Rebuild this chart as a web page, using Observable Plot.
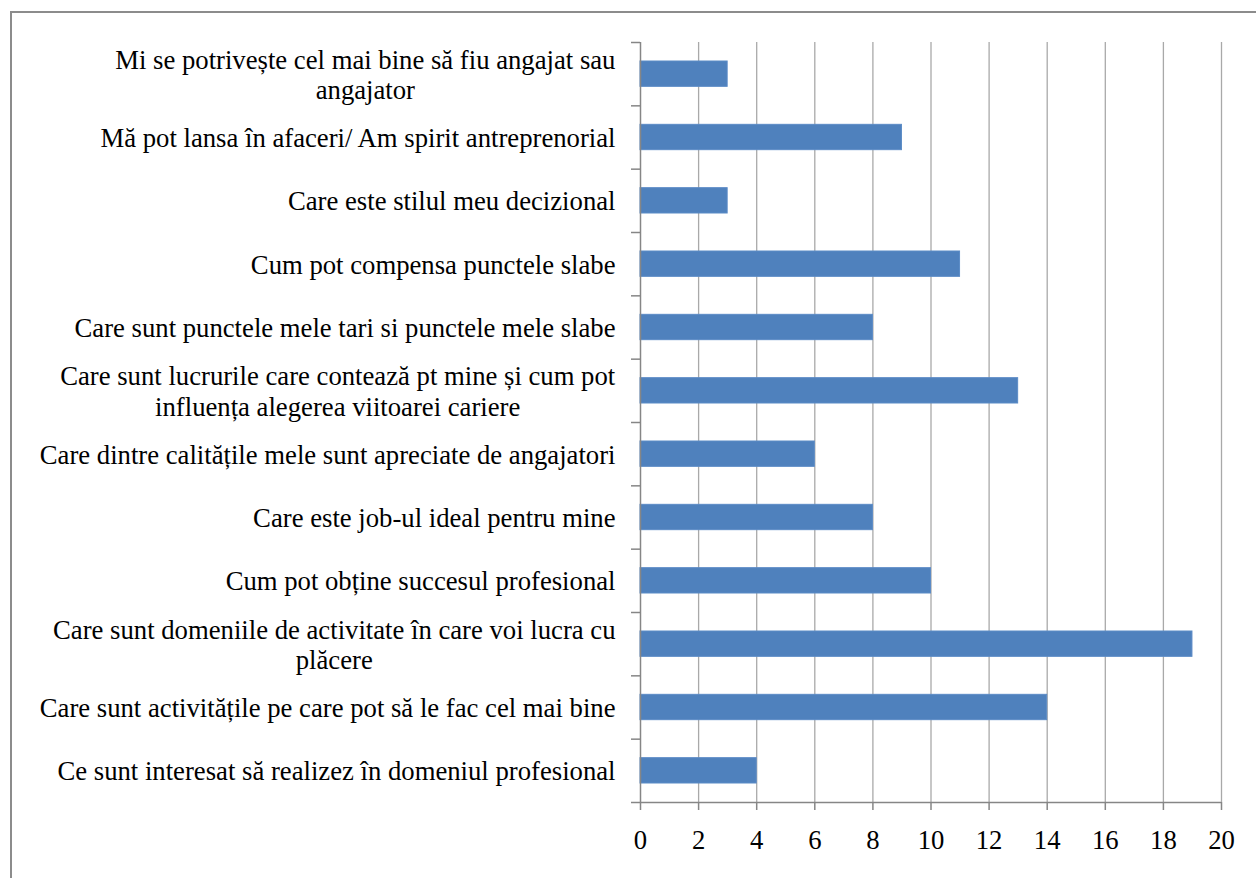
<!DOCTYPE html>
<html><head><meta charset="utf-8">
<script src="https://cdn.jsdelivr.net/npm/d3@7"></script>
<script src="https://cdn.jsdelivr.net/npm/@observablehq/plot@0.6"></script>
<style>
html,body{margin:0;padding:0;background:#fff;overflow:hidden;width:1256px;height:878px;}
#frame{position:absolute;left:10px;top:11px;width:1270px;height:900px;border:2px solid #8c8c8c;box-sizing:border-box;}
#chart{position:absolute;left:0;top:0;}
#chart svg, #chart svg g, #chart svg text{font-family:"Liberation Serif", "Times New Roman", serif !important;}
</style></head><body>
<div id="frame"></div><div id="chart"></div>
<script>
const categories = [
  "Mi se potrivește cel mai bine să fiu angajat sau\nangajator",
  "Mă pot lansa în afaceri/ Am spirit antreprenorial",
  "Care este stilul meu decizional",
  "Cum pot compensa punctele slabe",
  "Care sunt punctele mele tari si punctele mele slabe",
  "Care sunt lucrurile care contează pt mine și cum pot\ninfluența alegerea viitoarei cariere",
  "Care dintre calitățile mele sunt apreciate de angajatori",
  "Care este job-ul ideal pentru mine",
  "Cum pot obține succesul profesional",
  "Care sunt domeniile de activitate în care voi lucra cu\nplăcere",
  "Care sunt activitățile pe care pot să le fac cel mai bine",
  "Ce sunt interesat să realizez în domeniul profesional"
];
const values = [3, 9, 3, 11, 8, 13, 6, 8, 10, 19, 14, 4];
const xTicks = [0, 2, 4, 6, 8, 10, 12, 14, 16, 18, 20];

const data = categories.map((c, i) => ({i, label: c, value: values[i]}));
const idx = data.map(d => d.i);
const bounds = [-0.5, ...idx.map(i => i + 0.5)];
const gridCol = "#a9a9a9";
const axisCol = "#868686";
const serif = "Liberation Serif";
const fs = 26.7;

const chart = Plot.plot({
  width: 1256,
  height: 878,
  marginLeft: 640,
  marginRight: 35,
  marginTop: 42,
  marginBottom: 76,
  style: {fontFamily: serif, fontSize: fs + "px", color: "#000", background: "transparent"},
  x: {domain: [0, 20]},
  y: {domain: [-0.5, 11.5], range: [42, 802]},
  marks: [
    Plot.gridX(xTicks.slice(1), {stroke: gridCol, strokeOpacity: 1, strokeWidth: 1.3}),
    Plot.rectX(data, {x1: 0, x2: "value", y1: d => d.i - 0.2, y2: d => d.i + 0.2, fill: "#4f81bd", stroke: "#5b8bc6", strokeWidth: 1}),
    Plot.ruleX([0], {stroke: axisCol, strokeWidth: 1.5}),
    Plot.ruleY([11.5], {stroke: axisCol, strokeWidth: 1.5}),
    Plot.axisY(bounds, {tickSize: 9, tickFormat: () => "", stroke: axisCol, strokeWidth: 1.5, label: null}),
    Plot.axisY(idx, {tickSize: 0, tickPadding: 25, tickFormat: i => categories[i], lineHeight: 1.13, fill: "#000", fontFamily: serif, fontSize: fs, label: null}),
    Plot.axisX(xTicks, {tickSize: 8, tickPadding: 20, stroke: axisCol, strokeWidth: 1.5, fill: "#000", fontFamily: serif, fontSize: fs, label: null})
  ]
});
document.getElementById("chart").appendChild(chart);

// centre the lines of multi-line labels on each other, keeping the block right-aligned
chart.querySelectorAll("text").forEach(t => {
  const spans = t.querySelectorAll("tspan");
  if (spans.length > 1) {
    const w = t.getBBox().width;
    t.setAttribute("text-anchor", "middle");
    const tr = t.getAttribute("transform") || "";
    t.setAttribute("transform", tr + ` translate(${-w / 2},0)`);
  }
});
</script>
</body></html>
